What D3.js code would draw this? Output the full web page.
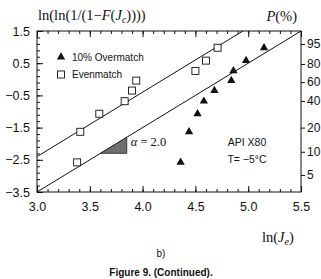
<!DOCTYPE html>
<html>
<head>
<meta charset="utf-8">
<script src="https://cdn.jsdelivr.net/npm/d3@7"></script>
<style>
  body { margin: 0; background: #fff; }
  svg text { fill: #111; }
  .sans { font-family: "Liberation Sans", Arial, sans-serif; }
  .serif { font-family: "Liberation Serif", "Times New Roman", serif; }
</style>
</head>
<body>
<div id="chart"></div>
<script>
// Data
var rankY = [-2.58, -1.63, -1.07, -0.68, -0.35, -0.04, 0.26, 0.58, 0.98];
var evenX = [3.38, 3.41, 3.59, 3.83, 3.90, 3.94, 4.50, 4.60, 4.71];
var overX = [4.36, 4.44, 4.52, 4.58, 4.68, 4.84, 4.86, 4.98, 5.15];
var xTicks = [3.0, 3.5, 4.0, 4.5, 5.0, 5.5];
var yTicks = [1.5, 0.5, -0.5, -1.5, -2.5, -3.5];
var pTicks = [95, 80, 60, 40, 20, 10, 5];
// fitted lines (alpha = 2.0): y = a + slope * x
var slope = 2.0;
var evenIntercept = -8.4;
var overIntercept = -9.5;
var triX = [3.6, 3.85];

var width = 321, height = 279;
var marg = { top: 31, right: 20, bottom: 87, left: 37 };

var svg = d3.select("#chart").append("svg")
    .attr("width", width)
    .attr("height", height);

var x = d3.scaleLinear().domain([3.0, 5.5]).range([marg.left, width - marg.right]);
var y = d3.scaleLinear().domain([-3.5, 1.5]).range([height - marg.bottom, marg.top]);

var fmt = d3.format(".1f");
var weib = p => Math.log(Math.log(1 / (1 - p / 100)));

// minor ticks
var xMinor = d3.range(30, 56).map(d => d / 10);
var yMinor = d3.range(0, 26).map(d => -3.5 + d * 0.2);

function styleAxis(g) {
  g.select(".domain").remove();
  g.selectAll("line").attr("stroke", "#111");
}

// bottom
svg.append("g").attr("transform", `translate(0,${y(-3.5)})`)
    .call(d3.axisBottom(x).tickValues(xMinor).tickSize(-3).tickFormat(""))
    .call(styleAxis);
svg.append("g").attr("transform", `translate(0,${y(-3.5)})`)
    .call(d3.axisBottom(x).tickValues(xTicks).tickSize(-6).tickPadding(10).tickFormat(fmt))
    .call(styleAxis)
    .selectAll("text").attr("font-size", 12.5).style("font-family", "Liberation Sans, Arial, sans-serif");

// top
svg.append("g").attr("transform", `translate(0,${y(1.5)})`)
    .call(d3.axisTop(x).tickValues(xMinor).tickSize(-3).tickFormat(""))
    .call(styleAxis);
svg.append("g").attr("transform", `translate(0,${y(1.5)})`)
    .call(d3.axisTop(x).tickValues(xTicks).tickSize(-6).tickFormat(""))
    .call(styleAxis);

// left
svg.append("g").attr("transform", `translate(${x(3.0)},0)`)
    .call(d3.axisLeft(y).tickValues(yMinor).tickSize(-3).tickFormat(""))
    .call(styleAxis);
svg.append("g").attr("transform", `translate(${x(3.0)},0)`)
    .call(d3.axisLeft(y).tickValues(yTicks).tickSize(-6).tickPadding(7).tickFormat(fmt))
    .call(styleAxis)
    .selectAll("text").attr("font-size", 12.5).style("font-family", "Liberation Sans, Arial, sans-serif");

// right (probability)
svg.append("g").attr("transform", `translate(${x(5.5)},0)`)
    .call(d3.axisRight(y).tickValues(pTicks.map(weib)).tickSize(4).tickPadding(2)
      .tickFormat((d, i) => pTicks[i]))
    .call(styleAxis)
    .selectAll("text").attr("font-size", 12).style("font-family", "Liberation Sans, Arial, sans-serif");

// frame
svg.append("rect")
    .attr("x", x(3.0)).attr("y", y(1.5))
    .attr("width", x(5.5) - x(3.0)).attr("height", y(-3.5) - y(1.5))
    .attr("fill", "none").attr("stroke", "#111").attr("stroke-width", 1);

// clip for lines
svg.append("clipPath").attr("id", "clip").append("rect")
    .attr("x", x(3.0)).attr("y", y(1.5))
    .attr("width", x(5.5) - x(3.0)).attr("height", y(-3.5) - y(1.5));

var line = d3.line().x(d => x(d[0])).y(d => y(d[1]));
[evenIntercept, overIntercept].forEach(function(a) {
  svg.append("path")
      .attr("clip-path", "url(#clip)")
      .attr("d", line([[3.0, a + slope * 3.0], [5.5, a + slope * 5.5]]))
      .attr("fill", "none").attr("stroke", "#111").attr("stroke-width", 1);
});

// slope triangle
var tri = [[triX[0], overIntercept + slope * triX[0]],
           [triX[1], overIntercept + slope * triX[0]],
           [triX[1], overIntercept + slope * triX[1]]];
svg.append("path")
    .attr("d", line(tri) + "Z")
    .attr("fill", "#6f6f6f").attr("stroke", "#222").attr("stroke-width", 0.8);

svg.append("text").attr("class", "serif")
    .attr("x", x(triX[1]) + 4).attr("y", y(-2.07))
    .attr("font-size", 12.5)
    .html('<tspan font-style="italic">α</tspan> = 2.0');

// squares (Evenmatch)
svg.selectAll(".even").data(evenX).enter().append("rect")
    .attr("class", "even")
    .attr("x", d => x(d) - 3.5)
    .attr("y", (d, i) => y(rankY[i]) - 3.5)
    .attr("width", 7).attr("height", 7)
    .attr("fill", "#fff").attr("stroke", "#111").attr("stroke-width", 0.9);

// triangles (10% Overmatch)
var triSym = d3.symbol().type(d3.symbolTriangle).size(30);
svg.selectAll(".over").data(overX).enter().append("path")
    .attr("class", "over")
    .attr("d", triSym)
    .attr("transform", (d, i) => `translate(${x(d)},${y(rankY[i])})`)
    .attr("fill", "#111");

// legend
svg.append("path").attr("d", triSym)
    .attr("transform", "translate(61,57)").attr("fill", "#111");
svg.append("text").attr("class", "sans").attr("x", 72).attr("y", 61)
    .attr("font-size", 10).text("10% Overmatch");
svg.append("rect").attr("x", 57.5).attr("y", 71).attr("width", 7).attr("height", 7)
    .attr("fill", "#fff").attr("stroke", "#111").attr("stroke-width", 0.9);
svg.append("text").attr("class", "sans").attr("x", 72).attr("y", 78)
    .attr("font-size", 10).text("Evenmatch");

// annotations
svg.append("text").attr("class", "sans").attr("x", 247).attr("y", 146)
    .attr("text-anchor", "middle").attr("font-size", 10.5).text("API X80");
svg.append("text").attr("class", "sans").attr("x", 247).attr("y", 163)
    .attr("text-anchor", "middle").attr("font-size", 10.5).text("T= \u22125\u00B0C");

// axis titles
svg.append("text").attr("class", "serif").attr("x", 38).attr("y", 20)
    .attr("font-size", 14.5)
    .html('ln(ln(1/(1\u2212<tspan font-style="italic">F</tspan>(<tspan font-style="italic">J</tspan><tspan font-style="italic" font-size="10" dy="3">c</tspan><tspan dy="-3">))))</tspan>');
svg.append("text").attr("class", "serif").attr("x", 297).attr("y", 21)
    .attr("text-anchor", "end").attr("font-size", 14.5)
    .html('<tspan font-style="italic">P</tspan>(%)');
svg.append("text").attr("class", "serif").attr("x", 262).attr("y", 242)
    .attr("font-size", 14.5)
    .html('ln(<tspan font-style="italic">J</tspan><tspan font-style="italic" font-size="10" dy="3">e</tspan><tspan dy="-3">)</tspan>');

svg.append("text").attr("class", "sans").attr("x", 161).attr("y", 257)
    .attr("text-anchor", "middle").attr("font-size", 10).text("b)");
svg.append("text").attr("class", "sans").attr("x", 161).attr("y", 276)
    .attr("text-anchor", "middle").attr("font-size", 10).attr("font-weight", "bold")
    .text("Figure 9. (Continued).");
</script>
</body>
</html>
